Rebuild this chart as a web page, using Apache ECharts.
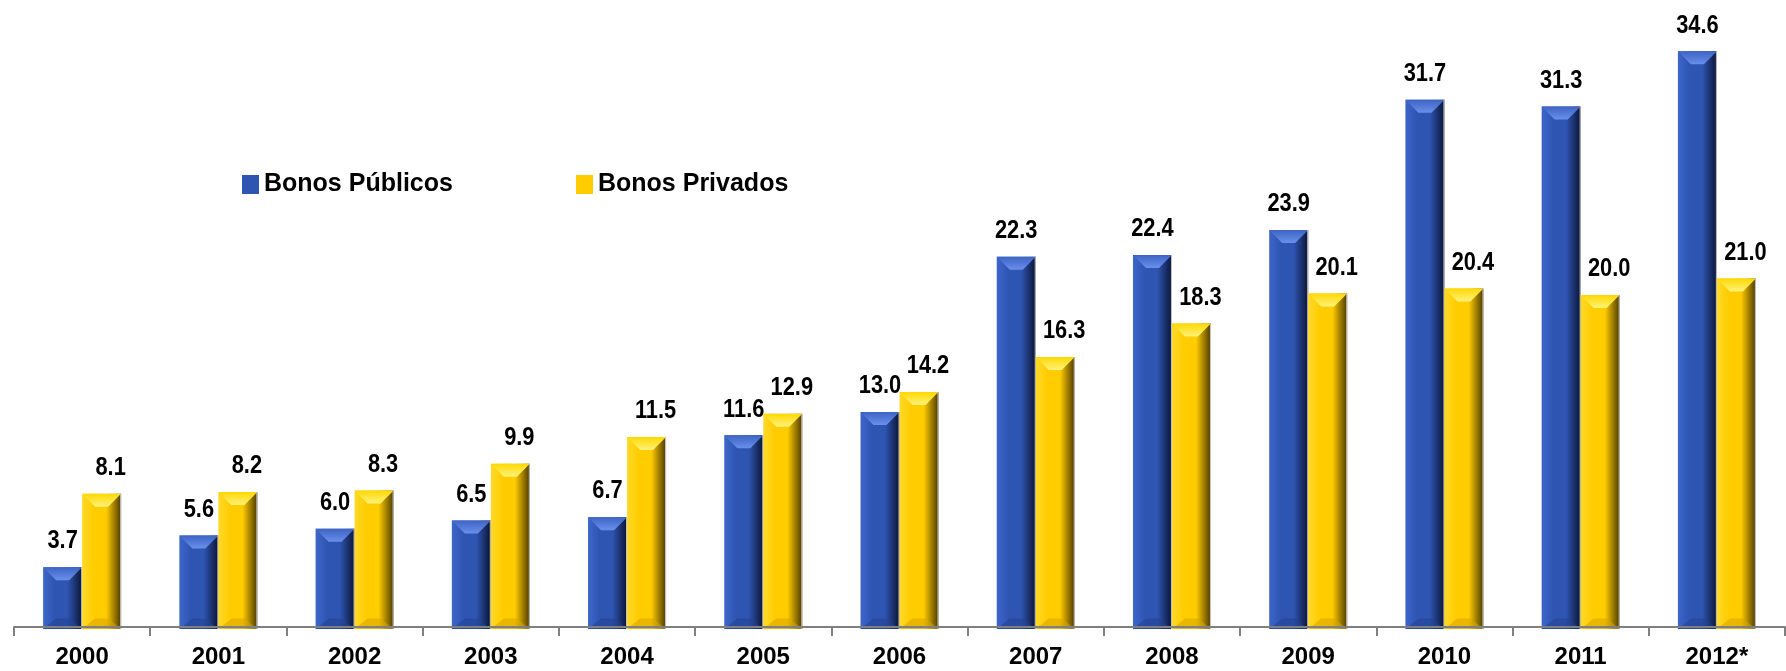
<!DOCTYPE html>
<html>
<head>
<meta charset="utf-8">
<script src="https://cdn.jsdelivr.net/npm/echarts@6/dist/echarts.min.js"></script>
<style>
html,body{margin:0;padding:0;background:#fff;}
#c{width:1786px;height:671px;}
</style>
</head>
<body>
<div id="c"></div>
<script>
const years = ['2000','2001','2002','2003','2004','2005','2006','2007','2008','2009','2010','2011','2012*'];
const bonosPublicos = [3.7,5.6,6.0,6.5,6.7,11.6,13.0,22.3,22.4,23.9,31.7,31.3,34.6];
const bonosPrivados = [8.1,8.2,8.3,9.9,11.5,12.9,14.2,16.3,18.3,20.1,20.4,20.0,21.0];
const seriesNames = ['Bonos Públicos','Bonos Privados'];

const FONT = '"Liberation Sans",Arial,sans-serif';
const BAR_W = 39;

const palettes = [
  { base:'#2f55b3', left:'#3d66c9', right:'#0b1535', top1:'#6a90ec', top2:'#3d63c4', bottom:'#23428f' },
  { base:'#ffcc00', left:'#ffd92a', right:'#4d3a00', top1:'#fff27a', top2:'#ffd800', bottom:'#d9a400' }
];

function makeRender(side, pal, labelDx) {
  return function (params, api) {
    const idx = api.value(0);
    const v = api.value(1);
    const p0 = api.coord([idx, 0]);
    const p1 = api.coord([idx, v]);
    const cx = p0[0];
    const x = side === 0 ? cx - BAR_W : cx;
    const w = BAR_W;
    const yTop = p1[1];
    const yBot = p0[1];
    const h = yBot - yTop;
    const b = Math.min(13, h / 2);
    const faceGrad = new echarts.graphic.LinearGradient(0, 0, 1, 0, [
      { offset: 0, color: pal.left },
      { offset: 0.3, color: pal.base },
      { offset: 0.62, color: pal.base },
      { offset: 1, color: pal.right }
    ]);
    const topGrad = new echarts.graphic.LinearGradient(0, 0, 0, 1, [
      { offset: 0, color: pal.top2 },
      { offset: 1, color: pal.top1 }
    ]);
    const children = [
      { type: 'rect', shape: { x: x, y: yTop, width: w, height: h }, style: { fill: faceGrad } },
      { type: 'polygon', shape: { points: [[x, yTop], [x + w, yTop], [x + w - b, yTop + b], [x + b, yTop + b]] },
        style: { fill: topGrad } },
      { type: 'polygon', shape: { points: [[x, yBot], [x + w, yBot], [x + w - b, yBot - b * 0.8], [x + b, yBot - b * 0.8]] },
        style: { fill: pal.bottom, opacity: 0.55 } },
      { type: 'rect', shape: { x: x + w - 1, y: yTop, width: 1, height: h }, style: { fill: '#c8c8c8' } },
      { type: 'text', x: x + w / 2 + labelDx, y: yTop - 13, scaleX: 0.84, scaleY: 1,
        style: {
          text: v.toFixed(1), x: 0, y: 0,
          align: 'center', verticalAlign: 'bottom',
          font: 'bold 26px ' + FONT, fill: '#000'
        } }
    ];
    return { type: 'group', children: children };
  };
}

const legendBase = {
  top: 167,
  itemWidth: 17, itemHeight: 19, itemGap: 5,
  icon: 'rect',
  textStyle: { fontFamily: FONT, fontWeight: 'bold', fontSize: 25, color: '#000' }
};

const chart = echarts.init(document.getElementById('c'), null, { renderer: 'canvas' });
chart.setOption({
  animation: false,
  backgroundColor: '#ffffff',
  grid: { left: 14, right: 1, top: 28, bottom: 42, containLabel: false },
  legend: [
    Object.assign({}, legendBase, { left: 237, data: [seriesNames[0]] }),
    Object.assign({}, legendBase, { left: 571, data: [seriesNames[1]] })
  ],
  xAxis: {
    type: 'category',
    data: years,
    offset: -2,
    axisLine: { show: true, lineStyle: { color: '#7f7f7f', width: 2 } },
    axisTick: { show: true, interval: 0, length: 9, lineStyle: { color: '#7f7f7f', width: 2 } },
    axisLabel: { interval: 0, margin: 18, fontFamily: FONT, fontWeight: 'bold', fontSize: 24, color: '#000' },
    z: 10
  },
  yAxis: {
    type: 'value', min: 0, max: 36,
    show: false, splitLine: { show: false }
  },
  series: [
    {
      name: seriesNames[0], type: 'custom', z: 2,
      itemStyle: { color: palettes[0].base },
      encode: { x: 0, y: 1 },
      renderItem: makeRender(0, palettes[0], 0),
      data: bonosPublicos.map((v, i) => [i, v])
    },
    {
      name: seriesNames[1], type: 'custom', z: 2,
      itemStyle: { color: palettes[1].base },
      encode: { x: 0, y: 1 },
      renderItem: makeRender(1, palettes[1], 9),
      data: bonosPrivados.map((v, i) => [i, v])
    }
  ]
});
</script>
</body>
</html>
